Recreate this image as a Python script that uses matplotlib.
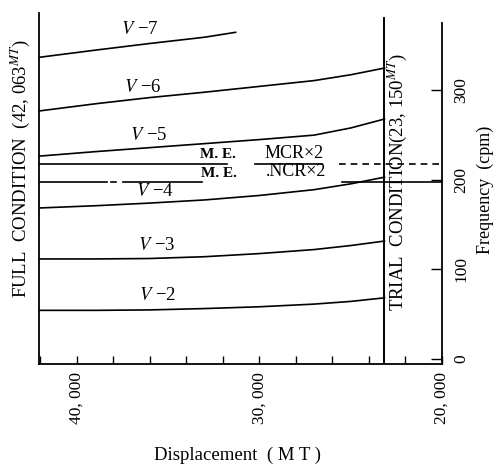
import numpy as np
import matplotlib
matplotlib.use("Agg")
import matplotlib.pyplot as plt
from matplotlib.ticker import FixedLocator, FuncFormatter

plt.rcParams['font.family'] = ['Liberation Serif', 'DejaVu Serif']
plt.rcParams['mathtext.fontset'] = 'stix'

# displacement (MT), full condition -> trial condition
disp = [42063, 39000, 36000, 33000, 30000, 27000, 25000, 23150]
v2 = [54, 54, 54.5, 56, 58, 61, 64, 68]
v3 = [111.5, 111.5, 112, 114, 117.5, 122, 126.5, 131.5]
v4 = [168.5, 171, 174, 177.5, 182.5, 189, 195.5, 203]
v5 = [226.5, 231.5, 236, 240.5, 245, 250, 258, 268]
v6 = [277, 285, 292, 298, 304.5, 311, 317.5, 325]
# V-7 stops short of the trial condition
disp7 = [42063, 39000, 36000, 33000, 31300]
v7 = [337, 345, 352.5, 359.5, 365]

mcr2 = 218   # M.E. MCR x2 (cpm)
ncr2 = 198   # M.E. NCR x2 (cpm)
full_cond = 42063
trial_cond = 23150

W, H = 494, 466
fig = plt.figure(figsize=(W / 100, H / 100), dpi=100)
ax = fig.add_axes([39 / W, 1 - 364 / H, (442 - 39) / W, (364 - 13) / H])

lw = 1.2
for d, f in [(disp, v2), (disp, v3), (disp, v4), (disp, v5), (disp, v6), (disp7, v7)]:
    ax.plot(d, f, color='black', lw=lw)

# M.E. MCR x2 line: solid under label, dashed to the right axis
ax.plot([full_cond, 31750], [mcr2, mcr2], color='black', lw=lw)
ax.plot([30218, 26557], [mcr2, mcr2], color='black', lw=lw)
ax.plot([25628, 20164], [mcr2, mcr2], color='black', lw=lw, ls=(0, (4, 3)))

# M.E. NCR x2 line: dash-dot look on the left
ax.plot([full_cond, 38361], [ncr2, ncr2], color='black', lw=lw)
ax.plot([38140, 37870], [ncr2, ncr2], color='black', lw=lw)
ax.plot([37486, 33115], [ncr2, ncr2], color='black', lw=lw)
ax.plot([25464, 20000], [ncr2, ncr2], color='black', lw=lw)

# trial condition vertical line
ax.plot([trial_cond, trial_cond], [-6, 381], color='black', lw=1.4)

ax.set_xlim(full_cond, 20000)
ax.set_ylim(-6, 386.6)

ax.spines['top'].set_visible(False)
ax.spines['right'].set_bounds(-6, 375)
for s in ax.spines.values():
    s.set_linewidth(1.3)

ax.xaxis.set_major_locator(FixedLocator([40000, 30000, 20000]))
ax.xaxis.set_minor_locator(FixedLocator(list(range(20000, 42001, 2000))))
ax.xaxis.set_major_formatter(FuncFormatter(lambda v, p: f"{int(v) // 1000}, {int(v) % 1000:03d}"))
ax.tick_params(axis='x', which='both', direction='in', length=6, width=1)
ax.tick_params(axis='x', which='major', labelsize=12.5, labelrotation=90, pad=6)

ax.yaxis.tick_right()
ax.set_yticks([0, 100, 200, 300])
ax.tick_params(axis='y', which='both', direction='in', length=8, width=1,
               labelsize=12.5, labelrotation=90, pad=8, left=False)
for lab in ax.get_yticklabels():
    lab.set_va('center')


def figpx(x, y):
    return x / W, 1 - y / H


# curve labels
for (x, y, n) in [(140, 30, 7), (143, 88, 6), (149, 135, 5), (155, 191, 4), (157, 246, 3), (158, 296, 2)]:
    fx, fy = figpx(x, y)
    fig.text(fx, fy, f"$V$ \u2212{n}", fontsize=13.5, ha='center', va='center')

fx, fy = figpx(218, 155)
fig.text(fx, fy, "M. E.", fontsize=11, ha='center', va='center', fontweight='bold')
fx, fy = figpx(294, 154)
fig.text(fx, fy, "MCR\u00d72", fontsize=13, ha='center', va='center')
fx, fy = figpx(219, 173)
fig.text(fx, fy, "M. E.", fontsize=11, ha='center', va='center', fontweight='bold')
fx, fy = figpx(296, 172)
fig.text(fx, fy, ".NCR\u00d72", fontsize=13, ha='center', va='center')

fx, fy = figpx(20, 168)
fig.text(fx, fy, "FULL  CONDITION  (42, 063$^{MT}$)", fontsize=13.5, rotation=90,
         ha='center', va='center')
fx, fy = figpx(397, 182)
fig.text(fx, fy, "TRIAL  CONDITION(23, 150$^{MT}$)", fontsize=13.5, rotation=90,
         ha='center', va='center')
fx, fy = figpx(485, 190)
fig.text(fx, fy, "Frequency  (cpm)", fontsize=13, rotation=90, ha='center', va='center')
fx, fy = figpx(237, 455)
fig.text(fx, fy, "Displacement  ( M T )", fontsize=13.5, ha='center', va='center')

fig.savefig("out.png", dpi=100)
